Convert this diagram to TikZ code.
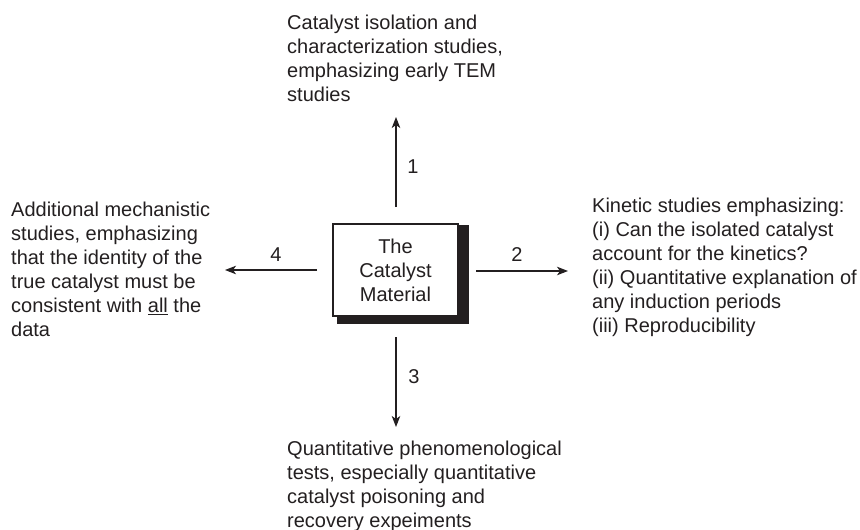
\documentclass[tikz,border=0pt]{standalone}
\usepackage{fontspec}
\setmainfont{Liberation Sans}
\usetikzlibrary{arrows.meta}
\definecolor{ink}{HTML}{231F20}
\tikzset{
  txt/.style={anchor=north west, inner sep=0pt, align=left, text=ink,
    font=\fontsize{20}{24}\selectfont},
  lbl/.style={inner sep=0pt, text=ink, font=\fontsize{20}{24}\selectfont},
  arr/.style={draw=ink, line width=1.1pt, -{Stealth[length=11pt,width=8.5pt,inset=3pt]}},
  mainbox/.style={draw=ink, line width=1.1pt, fill=white, minimum width=125pt,
    minimum height=92pt, inner sep=0pt, align=center, text=ink,
    font=\fontsize{20}{24}\selectfont},
}
\begin{document}
\begin{tikzpicture}[x=1pt,y=-1pt]
\useasboundingbox (0,0) rectangle (860,530);
% shadow
\fill[ink] (337,225) rectangle (469,324);
\node[mainbox] (box) at (395.5,270) {The\\Catalyst\\Material};
% texts
\node[txt] (top) at (287,14.5) {Catalyst isolation and\\characterization studies,\\emphasizing early TEM\\studies};
\node[txt] (left) at (11,201.5) {Additional mechanistic\\studies, emphasizing\\that the identity of the\\true catalyst must be\\consistent with \underline{all} the\\data};
\node[txt] (right) at (592,197.5) {Kinetic studies emphasizing:\\(i) Can the isolated catalyst\\account for the kinetics?\\(ii) Quantitative explanation of\\any induction periods\\(iii) Reproducibility};
\node[txt] (bottom) at (287,441.2) {Quantitative phenomenological\\tests, especially quantitative\\catalyst poisoning and\\recovery expeiments};
% arrow ends
\coordinate (u1) at (396,207); \coordinate (u2) at (396,117);
\coordinate (r1) at (476,271); \coordinate (r2) at (568,271);
\coordinate (d1) at (396,337); \coordinate (d2) at (396,427);
\coordinate (l1) at (317,270); \coordinate (l2) at (225,270);
\draw[arr] (u1) -- (u2);
\draw[arr] (r1) -- (r2);
\draw[arr] (d1) -- (d2);
\draw[arr] (l1) -- (l2);
% labels
\node[lbl] (n1) at (413,167) {1};
\node[lbl] (n2) at (517,255) {2};
\node[lbl] (n3) at (414,377) {3};
\node[lbl] (n4) at (276,255) {4};
\end{tikzpicture}
\end{document}
